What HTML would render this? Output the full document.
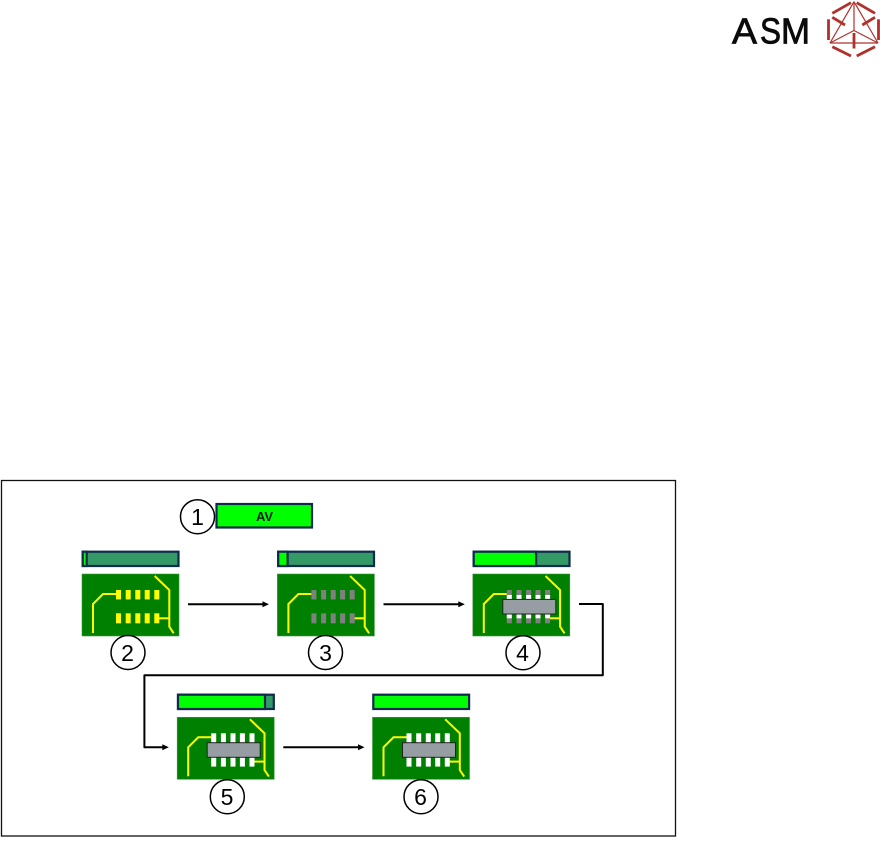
<!DOCTYPE html>
<html>
<head>
<meta charset="utf-8">
<style>
html,body{margin:0;padding:0;background:#fff;width:880px;height:847px;overflow:hidden}
svg{display:block}
text{font-family:"Liberation Sans",sans-serif}
</style>
</head>
<body>
<svg width="880" height="847" viewBox="0 0 880 847" xmlns="http://www.w3.org/2000/svg">
<defs>
  <g id="board">
    <rect x="0" y="0" width="97" height="62" fill="#008000" stroke="#3f9a3f" stroke-width="0.6"/>
    <polyline points="11,59 11,30 21,20 34,20" fill="none" stroke="#ffff00" stroke-width="2"/>
    <polyline points="72.7,2 87.3,16 87.3,52.7 91.7,59.3" fill="none" stroke="#ffff00" stroke-width="2"/>
    <line x1="77" y1="44.3" x2="87.3" y2="44.3" stroke="#ffff00" stroke-width="2"/>
  </g>
  <g id="padsY" fill="#ffff00">
    <rect x="34" y="16" width="5" height="9.4"/><rect x="43.7" y="16" width="5" height="9.4"/><rect x="53.3" y="16" width="5" height="9.4"/><rect x="62.7" y="16" width="5" height="9.4"/><rect x="72.3" y="16" width="5" height="9.4"/>
    <rect x="34" y="39.3" width="5" height="10"/><rect x="43.7" y="39.3" width="5" height="10"/><rect x="53.3" y="39.3" width="5" height="10"/><rect x="62.7" y="39.3" width="5" height="10"/><rect x="72.3" y="39.3" width="5" height="10"/>
  </g>
  <g id="padsG" fill="#808080">
    <rect x="34" y="16" width="5" height="9.4"/><rect x="43.7" y="16" width="5" height="9.4"/><rect x="53.3" y="16" width="5" height="9.4"/><rect x="62.7" y="16" width="5" height="9.4"/><rect x="72.3" y="16" width="5" height="9.4"/>
    <rect x="34" y="39.3" width="5" height="10"/><rect x="43.7" y="39.3" width="5" height="10"/><rect x="53.3" y="39.3" width="5" height="10"/><rect x="62.7" y="39.3" width="5" height="10"/><rect x="72.3" y="39.3" width="5" height="10"/>
  </g>
  <g id="padsW" fill="#ffffff">
    <rect x="34" y="16" width="5" height="9.4"/><rect x="43.7" y="16" width="5" height="9.4"/><rect x="53.3" y="16" width="5" height="9.4"/><rect x="62.7" y="16" width="5" height="9.4"/><rect x="72.3" y="16" width="5" height="9.4"/>
    <rect x="34" y="39.3" width="5" height="10"/><rect x="43.7" y="39.3" width="5" height="10"/><rect x="53.3" y="39.3" width="5" height="10"/><rect x="62.7" y="39.3" width="5" height="10"/><rect x="72.3" y="39.3" width="5" height="10"/>
  </g>
  <rect id="chip" x="30" y="25.4" width="53" height="14.6" fill="#969ea3" stroke="#222" stroke-width="1"/>
  <g id="arrowHead"><path d="M0,0 L-6.5,-3 L-6.5,3 Z" fill="#000"/></g>
</defs>

<!-- Logo -->
<g font-size="36" fill="#0a0a0a" stroke="#0a0a0a" stroke-width="0.8">
  <text x="732" y="43.5" textLength="25" lengthAdjust="spacingAndGlyphs">A</text>
  <text x="760" y="43.5" textLength="21" lengthAdjust="spacingAndGlyphs">S</text>
  <text x="781" y="43.5" textLength="29" lengthAdjust="spacingAndGlyphs">M</text>
</g>
<g stroke="#b0302c" fill="none" stroke-linecap="butt">
  <g stroke-width="1.2">
    <line x1="854" y1="1.7" x2="830" y2="43"/>
    <line x1="854" y1="1.7" x2="878" y2="43"/>
    <line x1="854" y1="1.7" x2="854" y2="30.5"/>
    <line x1="854" y1="30.5" x2="830" y2="43"/>
    <line x1="854" y1="30.5" x2="878" y2="43"/>
    <line x1="830" y1="43" x2="878" y2="43"/>
  </g>
  <g stroke-width="2.8">
    <line x1="832.3" y1="13.3" x2="851" y2="2.7"/>
    <line x1="856.7" y1="2.7" x2="875" y2="13.3"/>
    <line x1="828.5" y1="19.3" x2="828.5" y2="40"/>
    <line x1="878.5" y1="19.3" x2="878.5" y2="40"/>
    <line x1="832.3" y1="46.7" x2="851" y2="56"/>
    <line x1="856.7" y1="56" x2="875" y2="46.7"/>
    <line x1="832.3" y1="17.3" x2="845" y2="25"/>
    <line x1="875" y1="17.3" x2="862.3" y2="25"/>
    <line x1="854" y1="33" x2="854" y2="48.5"/>
  </g>
</g>

<!-- Frame -->
<rect x="1.5" y="480.5" width="674" height="355.5" fill="#fff" stroke="#111" stroke-width="1.3"/>

<!-- AV bar and 1 -->
<rect x="216.5" y="504" width="95.5" height="23.5" fill="#00ff00" stroke="#0f2a4a" stroke-width="2.2"/>
<text x="264.5" y="520.8" font-size="13" font-weight="bold" text-anchor="middle" fill="#0a1a10">AV</text>
<circle cx="197.5" cy="516.7" r="17" fill="#fff" stroke="#000" stroke-width="1.5"/>
<text x="197.5" y="525" font-size="23" text-anchor="middle" fill="#000">1</text>

<!-- Progress bars -->
<g stroke="#0f2a4a" stroke-width="2.2">
  <rect x="82.7" y="551.7" width="95.8" height="14.3" fill="#339966"/>
  <rect x="82.7" y="551.7" width="4" height="14.3" fill="#00ff00"/>
  <rect x="278.2" y="551.7" width="95.8" height="14.3" fill="#339966"/>
  <rect x="278.2" y="551.7" width="9.4" height="14.3" fill="#00ff00"/>
  <rect x="473.7" y="551.7" width="95.8" height="14.3" fill="#339966"/>
  <rect x="473.7" y="551.7" width="62.4" height="14.3" fill="#00ff00"/>
  <rect x="178" y="694.7" width="95.8" height="14.3" fill="#339966"/>
  <rect x="178" y="694.7" width="87" height="14.3" fill="#00ff00"/>
  <rect x="373.3" y="694.7" width="95.8" height="14.3" fill="#00ff00"/>
</g>

<!-- Boards -->
<g transform="translate(82,574)"><use href="#board"/><use href="#padsY"/></g>
<g transform="translate(277.4,574)"><use href="#board"/><use href="#padsG"/></g>
<g transform="translate(472.8,574)"><use href="#board"/><use href="#padsG"/>
  <g fill="#fff"><rect x="34" y="21" width="5" height="5"/><rect x="43.7" y="21" width="5" height="5"/><rect x="53.3" y="21" width="5" height="5"/><rect x="62.7" y="21" width="5" height="5"/><rect x="72.3" y="21" width="5" height="5"/>
  <rect x="34" y="39.3" width="5" height="5"/><rect x="43.7" y="39.3" width="5" height="5"/><rect x="53.3" y="39.3" width="5" height="5"/><rect x="62.7" y="39.3" width="5" height="5"/><rect x="72.3" y="39.3" width="5" height="5"/></g>
  <use href="#chip"/></g>
<g transform="translate(177.2,717.3)"><use href="#board"/><use href="#padsW"/><use href="#chip"/></g>
<g transform="translate(372.5,717.3)"><use href="#board"/><use href="#padsW"/><use href="#chip"/></g>

<!-- Connectors -->
<g fill="none" stroke="#000" stroke-width="2">
  <line x1="188" y1="604.3" x2="264" y2="604.3"/>
  <line x1="383.5" y1="604.2" x2="460" y2="604.2"/>
  <polyline points="579,604 602.8,604 602.8,675.3 144.4,675.3 144.4,747.3 164,747.3" stroke-linejoin="round"/>
  <line x1="283.3" y1="747.3" x2="360" y2="747.3"/>
</g>
<use href="#arrowHead" transform="translate(269,604.3)"/>
<use href="#arrowHead" transform="translate(464.8,604.2)"/>
<use href="#arrowHead" transform="translate(168.8,747.3)"/>
<use href="#arrowHead" transform="translate(364.5,747.3)"/>

<!-- Number circles -->
<g fill="#fff" stroke="#000" stroke-width="1.5">
  <circle cx="128" cy="652.5" r="17"/>
  <circle cx="325.5" cy="652.5" r="17"/>
  <circle cx="523" cy="652.7" r="17"/>
  <circle cx="227.3" cy="796.7" r="17"/>
  <circle cx="421" cy="796.7" r="17"/>
</g>
<g font-size="23" text-anchor="middle" fill="#000">
  <text x="127.5" y="660.8">2</text>
  <text x="325.5" y="660.8">3</text>
  <text x="522.5" y="661">4</text>
  <text x="227" y="805">5</text>
  <text x="420.5" y="805">6</text>
</g>
</svg>
</body>
</html>
